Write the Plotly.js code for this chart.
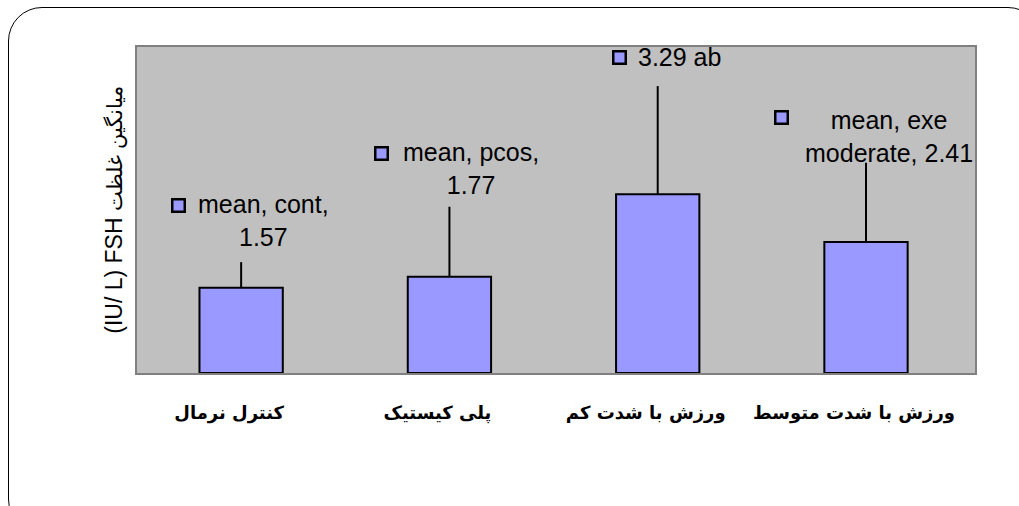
<!DOCTYPE html>
<html>
<head>
<meta charset="utf-8">
<script src="https://cdn.plot.ly/plotly-3.0.1.min.js"></script>
<style>
  html, body { margin: 0; padding: 0; background: #ffffff; overflow: hidden; }
  #frame { position: absolute; left: 8px; top: 7px; width: 1032px; height: 524px;
           border: 1.5px solid #000; border-radius: 34px; pointer-events: none; z-index: 5; }
  #chart { position: absolute; left: 0; top: 0; width: 1019px; height: 506px; }
</style>
</head>
<body>
<div id="chart"></div>
<div id="frame"></div>
<script>
// ---- data ----
const categories = ["کنترل نرمال", "پلی کیستیک", "ورزش با شدت کم", "ورزش با شدت متوسط"];
const means = [1.57, 1.77, 3.29, 2.41];
const errUp = [0.47, 1.29, 1.99, 1.46];
const labelTexts = ["mean, cont,<br>1.57", "mean, pcos,<br>1.77", "3.29 ab", "mean, exe<br>moderate, 2.41"];
const yTitle = "(IU/ L) FSH <span style='font-size:21px'>میانگین غلظت</span>";

// ---- label placement styles (pixel offsets from whisker top) ----
const textXShift = [22, 22, 22, 23];
const textYShift = [42, 38, 29, 26];
const keyXShift = [-63, -68, -38, -85];
const keyYShift = [57, 53, 29, 45];

const trace = {
  type: 'bar',
  x: categories,
  y: means,
  marker: { color: '#9999ff', line: { color: '#000000', width: 2 } },
  error_y: {
    type: 'data', symmetric: false, array: errUp,
    arrayminus: means.map(() => 0),
    color: '#000000', thickness: 2, width: 0
  },
  hoverinfo: 'none'
};

const annotations = [];
categories.forEach((c, i) => {
  const top = means[i] + errUp[i];
  annotations.push({
    x: c, y: top, xref: 'x', yref: 'y',
    text: labelTexts[i], showarrow: false,
    xanchor: 'center', yanchor: 'middle', align: 'center',
    xshift: textXShift[i], yshift: textYShift[i],
    font: { family: 'Liberation Sans, Arial, sans-serif', size: 25, color: '#000000' }
  });
  annotations.push({
    x: c, y: top, xref: 'x', yref: 'y',
    text: ' ', showarrow: false, width: 10, height: 10,
    bgcolor: '#9999ff', bordercolor: '#000000', borderwidth: 2.5, borderpad: 0,
    xanchor: 'center', yanchor: 'middle',
    xshift: keyXShift[i], yshift: keyYShift[i],
    font: { size: 6 }
  });
});

const layout = {
  width: 1019, height: 506,
  margin: { l: 137, r: 44, t: 47, b: 133 },
  paper_bgcolor: '#ffffff',
  plot_bgcolor: '#c0c0c0',
  showlegend: false,
  bargap: 0.6,
  xaxis: {
    type: 'category',
    showline: true, linecolor: '#808080', linewidth: 2, mirror: true,
    showgrid: false, zeroline: false, ticks: '',
    ticklabelstandoff: 22, ticklabelshift: -12,
    tickfont: { family: 'DejaVu Sans, sans-serif', size: 18, color: '#000000', weight: 'bold' }
  },
  yaxis: {
    range: [0, 6],
    showline: true, linecolor: '#808080', linewidth: 2, mirror: true,
    showgrid: false, zeroline: false, ticks: '', showticklabels: false,
    title: { text: yTitle, standoff: 6,
             font: { family: 'Liberation Sans, Arial, sans-serif', size: 23, color: '#000000' } }
  },
  annotations: annotations
};

Plotly.newPlot('chart', [trace], layout, { displayModeBar: false, staticPlot: true });
</script>
</body>
</html>
